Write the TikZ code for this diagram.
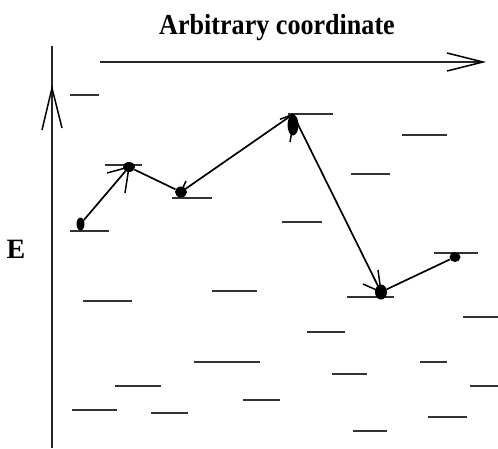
\documentclass[tikz,border=0pt]{standalone}
\usepackage{fontspec}
\usepackage{graphicx}
\setmainfont{Liberation Serif}
\usetikzlibrary{shapes.geometric}
\begin{document}
\begin{tikzpicture}[x=1pt,y=-1pt,
  axisline/.style={line width=2.2pt,black!85},
  level/.style={line width=2.4pt,black!80},
  conn/.style={line width=1.7pt,black},
  wing/.style={line width=1.5pt,black},
  blob/.style={ellipse,fill=black,inner sep=0pt,draw=none}]
\useasboundingbox (0,0) rectangle (498,448);
% title and axis label
\node[font=\bfseries\fontsize{29}{32}\selectfont,anchor=base,inner sep=0pt] (title) at (277,34) {\scalebox{0.9}[1]{Arbitrary coordinate}};
\node[font=\bfseries\fontsize{28}{30}\selectfont,anchor=base,inner sep=0pt] (elab) at (16,258) {E};
% axes
\coordinate (vtop) at (52,46);
\coordinate (vbot) at (52,448);
\coordinate (vtip) at (52,88);
\draw[axisline] (vtop) -- (vbot);
\draw[wing] (42,130) -- (vtip) -- (62,128);
\coordinate (hstart) at (100,62);
\coordinate (htip) at (483,62);
\draw[axisline] (hstart) -- (htip);
\draw[wing] (447,53) -- (htip) -- (447,71);
% background levels
\foreach \a/\b/\y in {70/99/95, 402/447/135, 351/390/174, 282/322/222,
  83/132/301, 212/257/291, 194/260/362, 115/161/386, 72/117/410, 151/188/413,
  243/280/400, 463/498/317, 307/345/332, 420/447/362, 332/367/374,
  470/498/386, 428/467/417, 353/387/431}
  \draw[level] (\a,\y) -- (\b,\y);
% path levels
\draw[level] (70,231) -- (109,231);
\draw[level] (105,165) -- (142,165);
\draw[level] (172,198) -- (212,198);
\draw[level] (288,114) -- (333,114);
\draw[level] (347,297) -- (394,297);
\draw[level] (434,253) -- (478,253);
% states
\node[blob,minimum width=8pt,minimum height=13pt] (n1) at (80.5,224) {};
\node[blob,minimum width=12pt,minimum height=10pt] (n2) at (129,167) {};
\node[blob,minimum width=12pt,minimum height=11pt] (n3) at (181,192) {};
\node[blob,minimum width=11pt,minimum height=21pt] (n4) at (293,125) {};
\node[blob,minimum width=12pt,minimum height=15pt] (n5) at (381,292) {};
\node[blob,minimum width=11pt,minimum height=10pt] (n6) at (455,257) {};
% connectors
\draw[conn] (n1) -- (n2);
\draw[conn] (n2) -- (n3);
\draw[conn] (n3.center) -- (n4.north);
\draw[conn] (n4.north) -- (n5.center);
\draw[conn] (n5) -- (n6);
% sketchy arrow wings
\draw[wing] (n2.center) -- ++(-22,6);
\draw[wing] (n2.center) -- ++(-4,26);
\draw[wing] (n3.center) -- ++(5,-11);
\draw[wing] (n4.north) -- ++(-13,5);
\draw[wing] (n4.center) -- ++(-3,17);
\draw[wing] (n5.center) -- ++(-3,-22);
\draw[wing] (n5.center) -- ++(-18,-8);
\end{tikzpicture}
\end{document}
